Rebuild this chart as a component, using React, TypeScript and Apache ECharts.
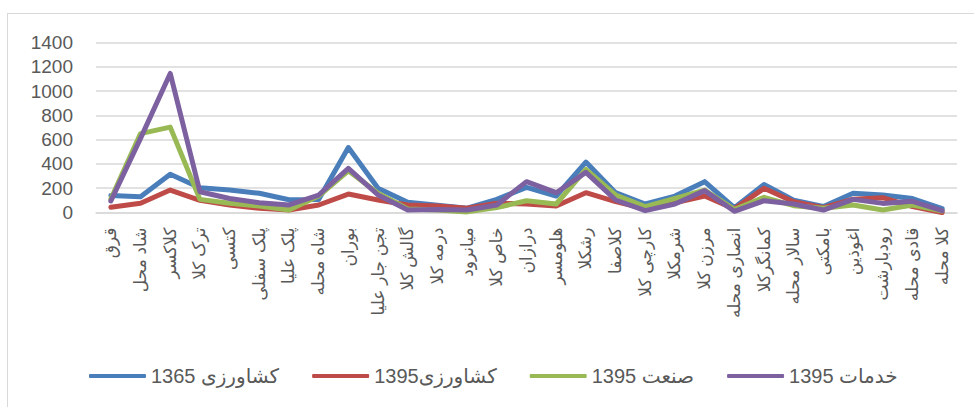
import React, { useEffect, useRef } from "react";
import * as echarts from "echarts";

const categories = [
  "قرق", "شاد محل", "کلاکسر", "ترک کلا", "کتسی", "پلک سفلی", "پلک علیا", "شاه محله",
  "بوران", "تجن جار علیا", "گالش کلا", "درمه کلا", "میانرود", "خاص کلا", "درازان",
  "هلومسر", "رشکلا", "کلاصفا", "کارچی کلا", "شرمکلا", "مرزن کلا", "انصاری محله",
  "کمانگرکلا", "سالار محله", "بامکتی", "اغوذین", "رودبارشت", "قادی محله", "کلا محله",
];

const seriesNames = ["کشاورزی 1365", "کشاورزی1395", "صنعت 1395", "خدمات 1395"];

const agri1365 = [140, 130, 315, 203, 185, 158, 105, 108, 535, 200, 84, 60, 35, 108, 207, 136, 415, 163, 70, 135, 254, 40, 230, 101, 50, 158, 144, 115, 32];
const agri1395 = [43, 76, 185, 100, 62, 34, 21, 62, 152, 103, 62, 53, 35, 76, 70, 53, 163, 89, 30, 80, 136, 30, 199, 89, 40, 110, 122, 48, 0];
const industry1395 = [110, 650, 703, 108, 76, 53, 21, 136, 344, 158, 29, 20, 5, 40, 97, 70, 355, 144, 48, 115, 185, 25, 125, 56, 35, 62, 20, 62, 12];
const services1395 = [95, 610, 1145, 171, 115, 81, 62, 144, 364, 144, 20, 25, 20, 62, 254, 163, 330, 103, 15, 70, 180, 10, 97, 70, 20, 108, 75, 92, 15];

const yTicks = { min: 0, max: 1400, interval: 200 };
const colors = ["#4A7EBB", "#BE4B48", "#98B954", "#7D60A0"];

const FONT = "'Liberation Sans', 'DejaVu Sans', Arial, sans-serif";

export default function App() {
  const ref = useRef<HTMLDivElement>(null);
  useEffect(() => {
    if (!ref.current) return;
    const chart = echarts.init(ref.current, undefined, { renderer: "svg" });
    const data = [agri1365, agri1395, industry1395, services1395];
    chart.setOption({
      animation: false,
      backgroundColor: "transparent",
      color: colors,
      grid: { left: 96, right: 17, top: 42.5, bottom: 194.5, containLabel: false },
      legend: {
        left: 84,
        top: 361,
        icon: "roundRect",
        itemWidth: 57,
        itemHeight: 4,
        itemGap: 33,
        textStyle: { fontSize: 20, color: "#595959", fontFamily: FONT },
        data: seriesNames,
      },
      xAxis: {
        type: "category",
        data: categories,
        boundaryGap: true,
        axisLine: { lineStyle: { color: "#d9d9d9", width: 1.5 } },
        axisTick: { show: false },
        axisLabel: {
          interval: 0,
          rotate: 90,
          margin: 15,
          fontSize: 17,
          color: "#595959",
          fontFamily: FONT,
        },
      },
      yAxis: {
        type: "value",
        min: yTicks.min,
        max: yTicks.max,
        interval: yTicks.interval,
        axisLine: { show: false },
        axisTick: { show: false },
        splitLine: { lineStyle: { color: "#d9d9d9", width: 1.5 } },
        axisLabel: {
          fontSize: 19,
          color: "#595959",
          margin: 23,
          fontFamily: FONT,
          formatter: (v: number) => String(v),
        },
      },
      series: seriesNames.map((name, i) => ({
        name,
        type: "line",
        data: data[i],
        symbol: "none",
        lineStyle: { width: 5, color: colors[i], cap: "round", join: "round" },
        itemStyle: { color: colors[i] },
      })),
    });
    return () => chart.dispose();
  }, []);

  return (
    <div style={{ position: "fixed", left: 0, top: 0, width: 974, height: 407, overflow: "hidden", background: "#fff" }}>
      <div style={{ position: "absolute", left: 7, top: 13, width: 1200, height: 600, border: "1px solid #d9d9d9" }} />
      <div ref={ref} style={{ position: "absolute", left: 0, top: 0, width: 974, height: 407 }} />
    </div>
  );
}
